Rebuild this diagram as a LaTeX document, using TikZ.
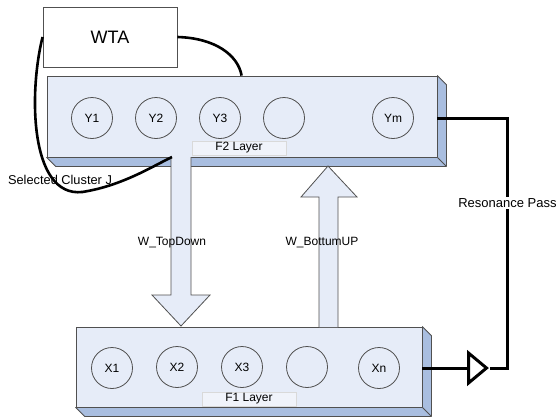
\documentclass[tikz,border=0pt]{standalone}
\usepackage{fontspec}
\setmainfont{Liberation Sans}
\usepackage{xcolor}
\usepackage{tikz}
\usetikzlibrary{shapes,arrows,positioning,calc,arrows.meta}
\definecolor{facebg}{RGB}{230,236,248}
\definecolor{slabbg}{RGB}{169,190,224}
\definecolor{tagbg}{RGB}{240,243,250}
\definecolor{edgegray}{RGB}{80,80,80}

\begin{document}
\begin{tikzpicture}[x=0.5pt, y=-0.5pt,
    layer/.style={rectangle, draw=edgegray, fill=facebg, inner sep=0pt},
    slab/.style={draw=edgegray, fill=slabbg, line join=round},
    unit/.style={circle, draw=edgegray, minimum size=20.5pt, inner sep=0pt, font=\fontsize{6}{7}\selectfont},
    tag/.style={rectangle, draw=black!15, fill=tagbg, minimum width=47pt, minimum height=7pt, inner sep=0pt, font=\fontsize{6}{7}\selectfont},
    fat/.style={draw=edgegray, fill=facebg, line join=miter},
    wire/.style={line width=1.5pt},
    link/.style={line width=1.3pt},
    lbl/.style={font=\fontsize{6}{7}\selectfont}
]
\useasboundingbox (0,0) rectangle (557,418);

% Components
\node[rectangle, draw=edgegray, minimum width=67pt, minimum height=30pt, font=\fontsize{9}{10}\selectfont] (wta) at (110,37) {WTA};

\node[layer, minimum width=195pt, minimum height=40.5pt] (f2) at (242,116.5) {};
\draw[slab] (f2.south west) -- ++(9,9) -| ($(f2.north east)+(9,9)$) -- (f2.north east) -- (f2.south east) -- cycle;
\draw[edgegray] (f2.south east) -- ++(9,9);
\node[unit] (y1) at (92,118) {Y1};
\node[unit] (y2) at (156,118) {Y2};
\node[unit] (y3) at (220,118) {Y3};
\node[unit] (y4) at (284,118) {};
\node[unit] (ym) at (393,118) {Ym};
\node[tag] (f2tag) at (239,148) {F2 Layer};

\node[layer, minimum width=173pt, minimum height=40pt] (f1) at (249,367) {};
\draw[slab] (f1.south west) -- ++(9,9) -| ($(f1.north east)+(9,9)$) -- (f1.north east) -- (f1.south east) -- cycle;
\draw[edgegray] (f1.south east) -- ++(9,9);
\node[unit] (x1) at (112,368) {X1};
\node[unit] (x2) at (177,367) {X2};
\node[unit] (x3) at (242,367) {X3};
\node[unit] (x4) at (307,367) {};
\node[unit] (xn) at (379,368) {Xn};
\node[tag] (f1tag) at (249,399) {F1 Layer};

\node[isosceles triangle, isosceles triangle stretches, draw, line width=1.5pt, minimum width=15pt, minimum height=9pt, inner sep=0pt, anchor=west] (amp) at (467,368) {};

% Weights
\draw[fat] (171,157) -- (171,295) -- (152,295) -- (181,326) -- (210,295) -- (191,295) -- (191,157);
\draw[fat] (319,327) -- (319,197) -- (301,197) -- (328,166) -- (357,197) -- (338,197) -- (338,327);
\node[lbl] (td) at (172,243) {W\_TopDown};
\node[lbl] (bu) at (322,243) {W\_BottumUP};

% Arrows
\draw[link] (wta.east) .. controls (215,38) and (238,55) .. ([xshift=97.5pt]f2.north west);
\draw[link] (wta.west) .. controls (28,95) and (30,205) .. (88,191) .. controls (125,184) and (155,165) .. (172,157);
\node[lbl, font=\fontsize{6.4}{7}\selectfont] (sel) at (60,180) {Selected Cluster J};
\draw[wire] (xn -| f1.east) -- (amp.west);
\draw[wire] (amp.east) -- ++(17,0) |- node[pos=0.33, fill=white, inner sep=0.5pt, font=\fontsize{6.5}{8}\selectfont] {Resonance Pass} (ym -| f2.east);

\end{tikzpicture}
\end{document}
